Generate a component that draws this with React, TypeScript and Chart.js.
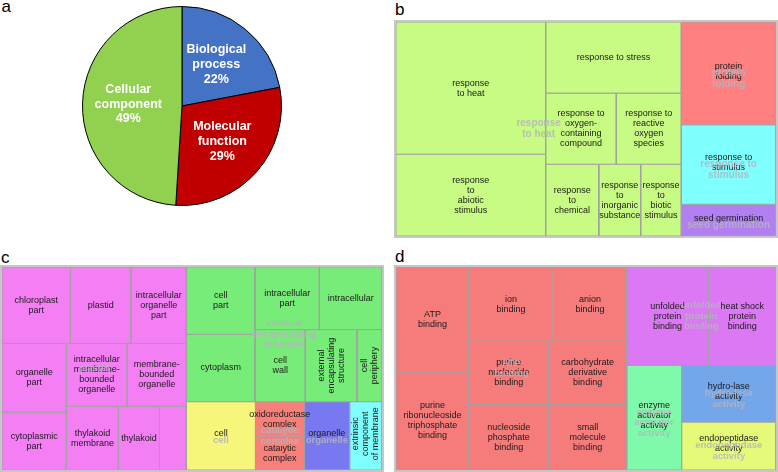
import React, { useEffect, useRef } from "react";
import { Chart, registerables } from "chart.js";

Chart.register(...registerables);

const FONT = '"Liberation Sans", Arial, Helvetica, sans-serif';

// ---------- Panel a: pie ----------
const pieCategories = ["Biological\nprocess", "Molecular\nfunction", "Cellular\ncomponent"];
const pieValues = [22, 29, 49];
const pieColors = ["#4472c4", "#c00000", "#92d050"];

// ---------- Panel b: biological process treemap ----------
const bLabels = [
  "response\nto heat",
  "response\nto\nabiotic\nstimulus",
  "response to stress",
  "response to\noxygen-\ncontaining\ncompound",
  "response to\nreactive\noxygen\nspecies",
  "response\nto\nchemical",
  "response\nto\ninorganic\nsubstance",
  "response\nto\nbiotic\nstimulus",
  "protein\nfolding",
  "response to\nstimulus",
  "seed germination",
];
const bValues = [197, 122, 96, 50, 46, 38, 30, 29, 97, 75, 30];
const bGroups = [0, 0, 0, 0, 0, 0, 0, 0, 1, 2, 3];
const bGroupLabels = ["response\nto heat", "protein\nfolding", "response to\nstimulus", "seed germination"];
const bGroupColors = ["#c8fb84", "#ff8080", "#80ffff", "#b27ff0"];
const bTree: any = ["h", ["h", ["v", 0, 1], ["v", 2, ["h", 3, 4], ["h", 5, 6, 7]]], ["v", 8, 9, 10]];

// ---------- Panel c: cellular component treemap ----------
const cLabels = [
  "chloroplast\npart",
  "plastid",
  "intracellular\norganelle\npart",
  "organelle\npart",
  "cytoplasmic\npart",
  "intracellular\nmembrane-\nbounded\norganelle",
  "membrane-\nbounded\norganelle",
  "thylakoid\nmembrane",
  "thylakoid",
  "",
  "cell\npart",
  "cytoplasm",
  "intracellular\npart",
  "intracellular",
  "cell\nwall",
  "external\nencapsulating\nstructure",
  "cell\nperiphery",
  "cell",
  "oxidoreductase\ncomplex",
  "catalytic\ncomplex",
  "organelle",
  "extrinsic\ncomponent\nof membrane",
];
const cValues = [52, 46, 42, 44, 37, 38, 37, 33, 26, 17, 46, 46, 40, 39, 36, 37, 18, 47, 17, 16, 31, 22];
const cGroups = [0, 0, 0, 0, 0, 0, 0, 0, 0, 0, 1, 1, 1, 1, 1, 1, 1, 2, 3, 3, 4, 5];
const cGroupLabels = ["plastid", "external\nencapsulating\nstructure", "cell", "catalytic\ncomplex", "organelle", ""];
const cGroupColors = ["#f47ef4", "#78ec78", "#f6f67a", "#f7807a", "#7878f0", "#80ffff"];
const cTree: any = [
  "h",
  ["v", ["h", 0, 1, 2], ["h", ["v", 3, 4], ["v", ["h", 5, 6], ["h", 7, 8, 9]]]],
  ["v", ["h", ["v", 10, 11], ["v", ["h", 12, 13], ["h", 14, 15, 16]]], ["h", 17, ["v", 18, 19], 20, 21]],
];

// ---------- Panel d: molecular function treemap ----------
const dLabels = [
  "ATP\nbinding",
  "purine\nribonucleoside\ntriphosphate\nbinding",
  "ion\nbinding",
  "anion\nbinding",
  "purine\nnucleotide\nbinding",
  "nucleoside\nphosphate\nbinding",
  "carbohydrate\nderivative\nbinding",
  "small\nmolecule\nbinding",
  "unfolded\nprotein\nbinding",
  "heat shock\nprotein\nbinding",
  "enzyme\nactivator\nactivity",
  "hydro-lase\nactivity",
  "endopeptidase\nactivity",
];
const dValues = [76, 71, 62, 54, 50, 52, 49, 51, 80, 66, 57, 53, 45];
const dGroups = [0, 0, 0, 0, 0, 0, 0, 0, 1, 1, 2, 3, 4];
const dGroupLabels = ["ATP\nbinding", "unfolded\nprotein\nbinding", "enzyme\nactivator\nactivity", "hydro-lase\nactivity", "endopeptidase\nactivity"];
const dGroupColors = ["#f67c7c", "#dc78f4", "#7efaaa", "#74a6ea", "#e6fa7a"];
const dTree: any = [
  "h",
  ["h", ["v", 0, 1], ["v", ["h", 2, 3], ["h", ["v", 4, 5], ["v", 6, 7]]]],
  ["v", ["h", 8, 9], ["h", 10, ["v", 11, 12]]],
];

// ---------- helpers ----------
function nodeTotal(node: any, values: number[]): number {
  if (typeof node === "number") return values[node];
  return node.slice(1).reduce((s: number, k: any) => s + nodeTotal(k, values), 0);
}

function sliceDice(node: any, values: number[], x0: number, y0: number, x1: number, y1: number, out: number[][]) {
  if (typeof node === "number") {
    out[node] = [x0, y0, x1, y1];
    return;
  }
  const dir = node[0];
  const kids = node.slice(1);
  const sums = kids.map((k: any) => nodeTotal(k, values));
  const total = sums.reduce((a: number, b: number) => a + b, 0);
  let pos = dir === "h" ? x0 : y0;
  const len = dir === "h" ? x1 - x0 : y1 - y0;
  kids.forEach((k: any, i: number) => {
    const span = (len * sums[i]) / total;
    if (dir === "h") sliceDice(k, values, pos, y0, pos + span, y1, out);
    else sliceDice(k, values, x0, pos, x1, pos + span, out);
    pos += span;
  });
}

function drawLines(ctx: CanvasRenderingContext2D, lines: string[], cx: number, cy: number, lh: number, rotate: boolean) {
  ctx.save();
  ctx.translate(cx, cy);
  if (rotate) ctx.rotate(-Math.PI / 2);
  lines.forEach((l, i) => ctx.fillText(l, 0, (i - (lines.length - 1) / 2) * lh));
  ctx.restore();
}

function treemapConfig(
  labels: string[],
  values: number[],
  groups: number[],
  groupLabels: string[],
  groupColors: string[],
  tree: any,
  graySize: number
): any {
  const rects: number[][] = [];
  sliceDice(tree, values, 0, 0, 1, 1, rects);
  const datasets = rects.map((r, i) => ({
    data: [
      { x: r[0], y: r[1] },
      { x: r[2], y: r[1] },
      { x: r[2], y: r[3] },
      { x: r[0], y: r[3] },
      { x: r[0], y: r[1] },
    ],
    showLine: true,
    fill: "shape",
    backgroundColor: groupColors[groups[i]],
    borderColor: "#a2a2a2",
    borderWidth: 1,
    pointRadius: 0,
    pointHoverRadius: 0,
    tension: 0,
  }));
  const groupCount = groupLabels.map((_, g) => groups.filter((x) => x === g).length);

  const plugin = {
    id: "tmLabels",
    afterDatasetsDraw(chart: any) {
      const ctx: CanvasRenderingContext2D = chart.ctx;
      const xs = chart.scales.x;
      const ys = chart.scales.y;
      const toPx = (r: number[]) => [
        xs.getPixelForValue(r[0]),
        ys.getPixelForValue(r[1]),
        xs.getPixelForValue(r[2]),
        ys.getPixelForValue(r[3]),
      ];
      ctx.save();
      ctx.textAlign = "center";
      ctx.textBaseline = "middle";
      // cell labels
      ctx.font = `9px ${FONT}`;
      ctx.fillStyle = "#1a1a1a";
      rects.forEach((r, i) => {
        if (!labels[i]) return;
        const [a, b, c, d] = toPx(r);
        const w = c - a;
        const h = d - b;
        const lines = labels[i].split("\n");
        const mw = Math.max(...lines.map((l) => ctx.measureText(l).width));
        const single = groupCount[groups[i]] === 1;
        const rotate = mw > w + 2 && h > w;
        drawLines(ctx, lines, (a + c) / 2, (b + d) / 2 + (single ? -2 : 0), 10, rotate);
      });
      // group labels
      ctx.font = `bold ${graySize}px ${FONT}`;
      ctx.fillStyle = "rgba(180,180,190,0.85)";
      groupLabels.forEach((gl, g) => {
        if (!gl) return;
        let x0 = Infinity, y0 = Infinity, x1 = -Infinity, y1 = -Infinity;
        rects.forEach((r, i) => {
          if (groups[i] !== g) return;
          const p = toPx(r);
          x0 = Math.min(x0, p[0]);
          y0 = Math.min(y0, p[1]);
          x1 = Math.max(x1, p[2]);
          y1 = Math.max(y1, p[3]);
        });
        const single = groupCount[g] === 1;
        drawLines(ctx, gl.split("\n"), (x0 + x1) / 2, (y0 + y1) / 2 + (single ? 5 : 0), graySize * 1.1, false);
      });
      // outer frame
      const ca = chart.chartArea;
      ctx.strokeStyle = "#c6c6c6";
      ctx.lineWidth = 2;
      ctx.strokeRect(ca.left - 1, ca.top - 1, ca.right - ca.left + 2, ca.bottom - ca.top + 2);
      ctx.restore();
    },
  };

  return {
    type: "scatter",
    data: { datasets },
    options: {
      animation: false,
      responsive: false,
      events: [],
      layout: { padding: 2 },
      plugins: { legend: { display: false }, tooltip: { enabled: false } },
      scales: {
        x: { type: "linear", min: 0, max: 1, display: false },
        y: { type: "linear", min: 0, max: 1, reverse: true, display: false },
      },
    },
    plugins: [plugin],
  };
}

const pieLabelPlugin = {
  id: "pieLabels",
  afterDatasetsDraw(chart: any) {
    const ctx: CanvasRenderingContext2D = chart.ctx;
    const meta = chart.getDatasetMeta(0);
    ctx.save();
    ctx.font = `bold 12.5px ${FONT}`;
    ctx.fillStyle = "#ffffff";
    ctx.textAlign = "center";
    ctx.textBaseline = "middle";
    meta.data.forEach((arc: any, i: number) => {
      const { x, y, startAngle, endAngle, outerRadius } = arc.getProps(
        ["x", "y", "startAngle", "endAngle", "outerRadius"],
        true
      );
      const mid = (startAngle + endAngle) / 2;
      const r = outerRadius * 0.54;
      const lines = `${pieCategories[i]}\n${pieValues[i]}%`.split("\n");
      drawLines(ctx, lines, x + Math.cos(mid) * r, y + Math.sin(mid) * r, 14.7, false);
    });
    ctx.restore();
  },
};

const letterStyle = (left: number, top: number): React.CSSProperties => ({
  position: "absolute",
  left,
  top,
  fontFamily: FONT,
  fontSize: 17,
  lineHeight: "17px",
  color: "#000",
});

export default function App() {
  const pieRef = useRef<HTMLCanvasElement>(null);
  const bRef = useRef<HTMLCanvasElement>(null);
  const cRef = useRef<HTMLCanvasElement>(null);
  const dRef = useRef<HTMLCanvasElement>(null);

  useEffect(() => {
    const charts: Chart[] = [];
    charts.push(
      new Chart(pieRef.current as HTMLCanvasElement, {
        type: "pie",
        data: {
          labels: pieCategories,
          datasets: [{ data: pieValues, backgroundColor: pieColors, borderColor: "#000000", borderWidth: 1 }],
        },
        options: {
          animation: false,
          responsive: false,
          events: [],
          layout: { padding: 0 },
          plugins: { legend: { display: false }, tooltip: { enabled: false } },
        },
        plugins: [pieLabelPlugin],
      } as any)
    );
    charts.push(new Chart(bRef.current as HTMLCanvasElement, treemapConfig(bLabels, bValues, bGroups, bGroupLabels, bGroupColors, bTree, 10)));
    charts.push(new Chart(cRef.current as HTMLCanvasElement, treemapConfig(cLabels, cValues, cGroups, cGroupLabels, cGroupColors, cTree, 9.5)));
    charts.push(new Chart(dRef.current as HTMLCanvasElement, treemapConfig(dLabels, dValues, dGroups, dGroupLabels, dGroupColors, dTree, 9.5)));
    return () => charts.forEach((c) => c.destroy());
  }, []);

  return (
    <div style={{ position: "absolute", left: 0, top: 0, width: 778, height: 472, overflow: "hidden", background: "#fff" }}>
      <div style={letterStyle(1.5, -2.4)}>a</div>
      <div style={letterStyle(395, 0.6)}>b</div>
      <div style={letterStyle(1, 249)}>c</div>
      <div style={letterStyle(395, 247.6)}>d</div>
      <canvas ref={pieRef} width={200} height={200} style={{ position: "absolute", left: 82, top: 6, width: 200, height: 200 }} />
      <canvas ref={bRef} width={384} height={218} style={{ position: "absolute", left: 394, top: 20, width: 384, height: 218 }} />
      <canvas ref={cRef} width={384} height={207} style={{ position: "absolute", left: 0, top: 265, width: 384, height: 207 }} />
      <canvas ref={dRef} width={384} height={207} style={{ position: "absolute", left: 394, top: 265, width: 384, height: 207 }} />
    </div>
  );
}
